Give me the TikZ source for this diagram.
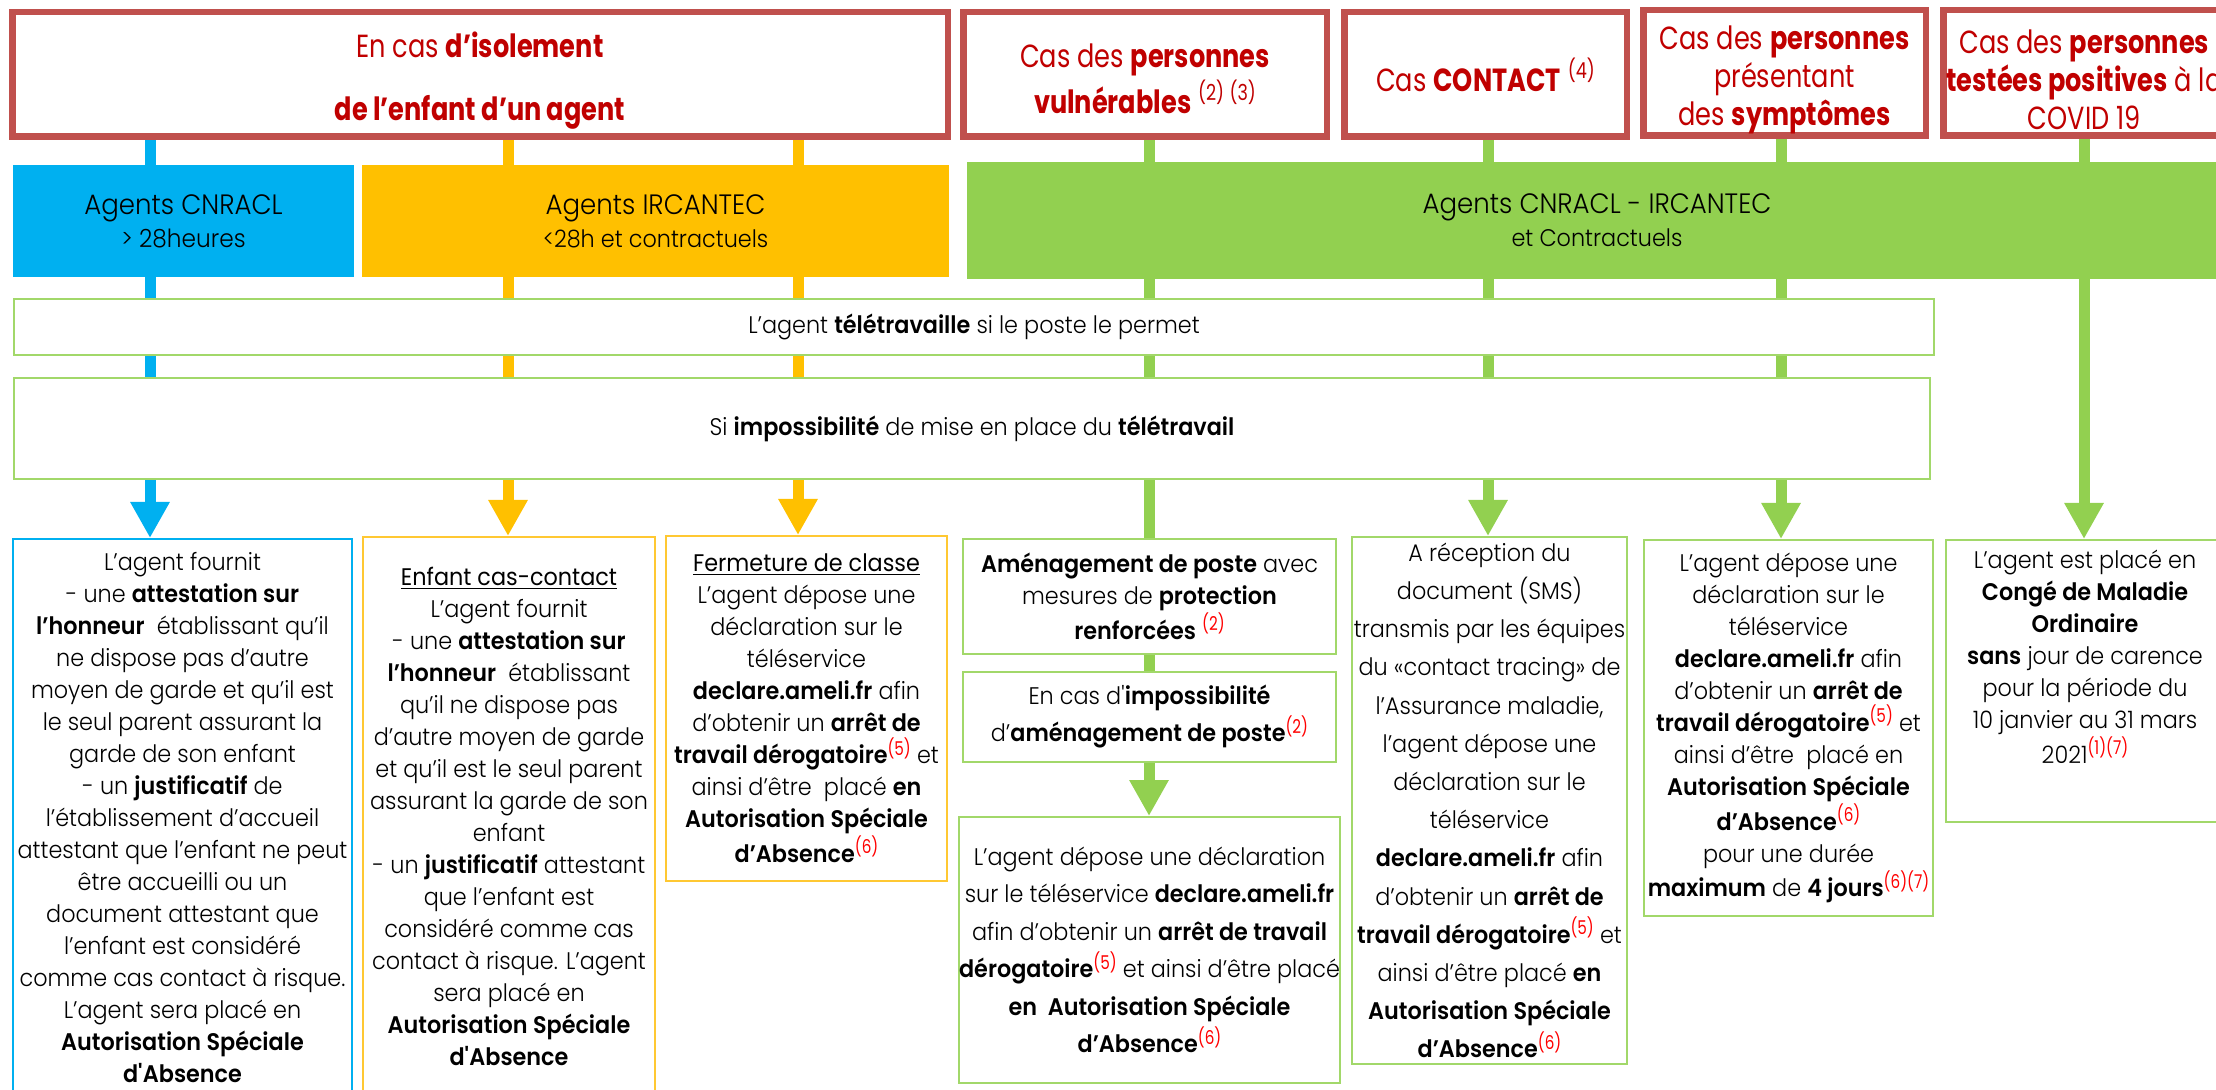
\documentclass[tikz,border=0pt]{standalone}
\usepackage{fontspec}
\setmainfont{Poppins}[UprightFont={* Light}, BoldFont={* SemiBold}, FakeStretch=0.93]
\newfontfamily\hdrfont{Poppins}[FakeStretch=0.8]
\newfontfamily\regfont{Poppins}[FakeStretch=0.93]
\newfontfamily\supfont{Poppins}[FakeStretch=0.8]
\usetikzlibrary{arrows.meta,backgrounds}
\definecolor{hred}{HTML}{C0504D}
\definecolor{htext}{HTML}{C00000}
\definecolor{cblue}{HTML}{00B0F0}
\definecolor{cyellow}{HTML}{FFC000}
\definecolor{cgreen}{HTML}{92D050}
\definecolor{bgreen}{HTML}{A2D86A}
\definecolor{byellow}{HTML}{FFC832}
\definecolor{supred}{HTML}{FF0000}
\newcommand\rsup[1]{\raisebox{4.4pt}{\supfont\fontsize{9.5}{9.5}\selectfont\textcolor{supred}{#1}}}
\newcommand\hsup[1]{\raisebox{6.5pt}{\fontsize{11}{11}\selectfont #1}}
\newcommand\sq{\textquotesingle}
\begin{document}
\begin{tikzpicture}[x=0.5pt,y=-0.5pt,
  hdr/.style={draw=hred, line width=3.25pt, inner sep=0pt, align=center, text=htext, font=\hdrfont\fontsize{16}{19}\selectfont},
  agent/.style={inner sep=0pt, align=center, font=\fontsize{14}{16.5}\selectfont},
  tbox/.style={draw=bgreen, line width=1pt, inner sep=0pt, align=center, font=\fontsize{12}{16}\selectfont},
  cbox/.style={draw=#1, line width=1pt, inner sep=0pt, align=center, font=\fontsize{12}{16}\selectfont},
  link/.style={line width=5.5pt},
  arr/.style={line width=5.5pt, -{Triangle[width=18.5pt,length=18pt]}},
]
\useasboundingbox (0,0) rectangle (2216,1090);

% ---- header boxes
\node[hdr, minimum width=467.75pt, minimum height=62.25pt] (hdr1) at (480,74.5)
  {\rule{0pt}{19pt}En cas \textbf{d’isolement}\\[12.5pt]\textbf{de l’enfant d’un agent}};
\node[hdr, minimum width=181.75pt, minimum height=62.25pt] (hdr2) at (1145,74.5)
  {\rule{0pt}{16pt}Cas des \textbf{personnes}\\[1.25pt]\textbf{vulnérables} \hsup{(2)}\,\hsup{(3)}};
\node[hdr, minimum width=141.25pt, minimum height=62.25pt] (hdr3) at (1485.5,74.5)
  {Cas \textbf{CONTACT} \hsup{(4)}};
\node[hdr, minimum width=141.25pt, minimum height=62.75pt] (hdr4) at (1784.5,73)
  {\rule{0pt}{18.5pt}Cas des \textbf{personnes}\\présentant\\des \textbf{symptômes}};
\node[hdr, minimum width=140.75pt, minimum height=62.75pt, anchor=west] (hdr5) at (1940.25,73)
  {\rule{0pt}{18.5pt}Cas des \textbf{personnes}\\\textbf{testées positives} à la\\COVID 19};

% ---- agent boxes
\node[agent, fill=cblue, minimum width=170.5pt, minimum height=56pt] (agB) at (183.5,221)
  {Agents CNRACL\\{\fontsize{12.5}{16.5}\selectfont > 28heures}};
\node[agent, fill=cyellow, minimum width=293.5pt, minimum height=56pt] (agY) at (655.5,221)
  {Agents IRCANTEC\\{\fontsize{12}{16.5}\selectfont <28h et contractuels}};
\node[agent, fill=cgreen, minimum width=630pt, minimum height=58.5pt] (agG) at (1597,220.5)
  {Agents CNRACL - IRCANTEC\\{\fontsize{12}{16.5}\selectfont et Contractuels}};

% ---- telework boxes
\node[tbox, minimum width=960pt, minimum height=28pt] (tele) at (974,327)
  {L’agent \textbf{télétravaille} si le poste le permet};
\node[tbox, minimum width=958pt, minimum height=50.5pt] (imp) at (972,428.5)
  {Si \textbf{impossibilité} de mise en place du \textbf{télétravail}};

% ---- bottom boxes
\node[cbox=cblue, minimum width=169.5pt, minimum height=279pt] (bB) at (182.5,818)
  {L’agent fournit\\
   - une \textbf{attestation sur}\\
   \textbf{l’honneur}\ \ établissant qu’il\\
   ne dispose pas d’autre\\
   moyen de garde et qu’il est\\
   le seul parent assurant la\\
   garde de son enfant\\
   - un \textbf{justificatif} de\\
   l’établissement d’accueil\\
   attestant que l’enfant ne peut\\
   être accueilli ou un\\
   document attestant que\\
   l’enfant est considéré\\
   comme cas contact à risque.\\
   L’agent sera placé en\\
   \textbf{Autorisation Spéciale}\\
   \textbf{d\sq Absence}};
\node[cbox=byellow, minimum width=146pt, minimum height=279.5pt] (bY1) at (509,816.5)
  {{\regfont\underline{Enfant cas-contact}}\\
   L’agent fournit\\
   - une \textbf{attestation sur}\\
   \textbf{l’honneur}\ \ établissant\\
   qu’il ne dispose pas\\
   d’autre moyen de garde\\
   et qu’il est le seul parent\\
   assurant la garde de son\\
   enfant\\
   - un \textbf{justificatif} attestant\\
   que l’enfant est\\
   considéré comme cas\\
   contact à risque. L’agent\\
   sera placé en\\
   \textbf{Autorisation Spéciale}\\
   \textbf{d\sq Absence}};
\node[cbox=byellow, minimum width=140.5pt, minimum height=172.5pt] (bY2) at (806.5,708.5)
  {{\regfont\underline{Fermeture de classe}}\\
   L’agent dépose une\\
   déclaration sur le\\
   téléservice\\
   \textbf{declare.ameli.fr} afin\\
   d’obtenir un \textbf{arrêt de}\\
   \textbf{travail dérogatoire}\rsup{(5)} et\\
   ainsi d’être\ \ placé \textbf{en}\\
   \textbf{Autorisation Spéciale}\\
   \textbf{d’Absence}\rsup{(6)}};
\node[cbox=bgreen, minimum width=186.5pt, minimum height=57.5pt] (bG1) at (1149.5,596.5)
  {\textbf{Aménagement de poste} avec\\
   mesures de \textbf{protection}\\
   \textbf{renforcées} \rsup{(2)}};
\node[cbox=bgreen, minimum width=186.5pt, minimum height=45pt, font=\fontsize{12}{18.5}\selectfont] (bG2) at (1149.5,717)
  {En cas d\sq\textbf{impossibilité}\\
   d’\textbf{aménagement de poste}\rsup{(2)}};
\node[cbox=bgreen, minimum width=186.5pt, minimum height=133pt, font=\fontsize{12}{18.75}\selectfont] (bG3) at (1149.5,950)
  {L’agent dépose une déclaration\\
   sur le téléservice \textbf{declare.ameli.fr}\\
   afin d’obtenir un \textbf{arrêt de travail}\\
   \textbf{dérogatoire}\rsup{(5)} et ainsi d’être placé\\
   \textbf{en\ \ Autorisation Spéciale}\\
   \textbf{d’Absence}\rsup{(6)}};
\node[cbox=bgreen, minimum width=137.5pt, minimum height=263.5pt, font=\fontsize{12}{19.1}\selectfont] (bC) at (1489.5,800.5)
  {A réception du\\
   document (SMS)\\
   transmis par les équipes\\
   du «contact tracing» de\\
   l’Assurance maladie,\\
   l’agent dépose une\\
   déclaration sur le\\
   téléservice\\
   \textbf{declare.ameli.fr} afin\\
   d’obtenir un \textbf{arrêt de}\\
   \textbf{travail dérogatoire}\rsup{(5)} et\\
   ainsi d’être placé \textbf{en}\\
   \textbf{Autorisation Spéciale}\\
   \textbf{d’Absence}\rsup{(6)}};
\node[cbox=bgreen, minimum width=144.5pt, minimum height=188pt] (bS) at (1788.5,728)
  {L’agent dépose une\\
   déclaration sur le\\
   téléservice\\
   \textbf{declare.ameli.fr} afin\\
   d’obtenir un \textbf{arrêt de}\\
   \textbf{travail dérogatoire}\rsup{(5)} et\\
   ainsi d’être\ \ placé en\\
   \textbf{Autorisation Spéciale}\\
   \textbf{d’Absence}\rsup{(6)}\\
   pour une durée\\
   \textbf{maximum} de \textbf{4 jours}\rsup{(6)(7)}};
\node[cbox=bgreen, minimum width=139pt, minimum height=141pt] (bV) at (2085,681)
  {L’agent est placé en\\
   \textbf{Congé de Maladie}\\
   \textbf{Ordinaire}\\
   \textbf{sans} jour de carence\\
   pour la période du\\
   10 janvier au 31 mars\\
   2021\rsup{(1)(7)}\\[8pt]};

% ---- connector x positions
\coordinate (cB) at (150,0);
\coordinate (cY1) at (508,0);
\coordinate (cY2) at (798,0);
\coordinate (cG1) at (1149,0);
\coordinate (cG2) at (1488,0);
\coordinate (cG3) at (1781,0);
\coordinate (cG4) at (2084,0);

\begin{scope}[on background layer]
\fill[white] (0,0) rectangle (2216,1090);
% headers -> agents
\draw[link, cblue] (hdr1.south -| cB) -- (agB.north -| cB);
\draw[link, cyellow] (hdr1.south -| cY1) -- (agY.north -| cY1);
\draw[link, cyellow] (hdr1.south -| cY2) -- (agY.north -| cY2);
\draw[link, cgreen] (hdr2.south -| cG1) -- (agG.north -| cG1);
\draw[link, cgreen] (hdr3.south -| cG2) -- (agG.north -| cG2);
\draw[link, cgreen] (hdr4.south -| cG3) -- (agG.north -| cG3);
\draw[link, cgreen] (hdr5.south -| cG4) -- (agG.north -| cG4);
% agents -> telework
\draw[link, cblue] (agB.south -| cB) -- (tele.north -| cB);
\draw[link, cyellow] (agY.south -| cY1) -- (tele.north -| cY1);
\draw[link, cyellow] (agY.south -| cY2) -- (tele.north -| cY2);
\draw[link, cgreen] (agG.south -| cG1) -- (tele.north -| cG1);
\draw[link, cgreen] (agG.south -| cG2) -- (tele.north -| cG2);
\draw[link, cgreen] (agG.south -| cG3) -- (tele.north -| cG3);
% telework -> impossibility
\draw[link, cblue] (tele.south -| cB) -- (imp.north -| cB);
\draw[link, cyellow] (tele.south -| cY1) -- (imp.north -| cY1);
\draw[link, cyellow] (tele.south -| cY2) -- (imp.north -| cY2);
\draw[link, cgreen] (tele.south -| cG1) -- (imp.north -| cG1);
\draw[link, cgreen] (tele.south -| cG2) -- (imp.north -| cG2);
\draw[link, cgreen] (tele.south -| cG3) -- (imp.north -| cG3);
% impossibility -> result boxes
\draw[arr, cblue] (imp.south -| cB) -- (bB.north -| cB);
\draw[arr, cyellow] (imp.south -| cY1) -- (bY1.north -| cY1);
\draw[arr, cyellow] (imp.south -| cY2) -- (bY2.north -| cY2);
\draw[link, cgreen] (imp.south -| cG1) -- (bG1.north -| cG1);
\draw[arr, cgreen] (imp.south -| cG2) -- (bC.north -| cG2);
\draw[arr, cgreen] (imp.south -| cG3) -- (bS.north -| cG3);
\draw[arr, cgreen] (agG.south -| cG4) -- (bV.north -| cG4);
% vulnerable chain
\draw[link, cgreen] (bG1.south -| cG1) -- (bG2.north -| cG1);
\draw[arr, cgreen] (bG2.south -| cG1) -- (bG3.north -| cG1);
\end{scope}
\end{tikzpicture}
\end{document}
